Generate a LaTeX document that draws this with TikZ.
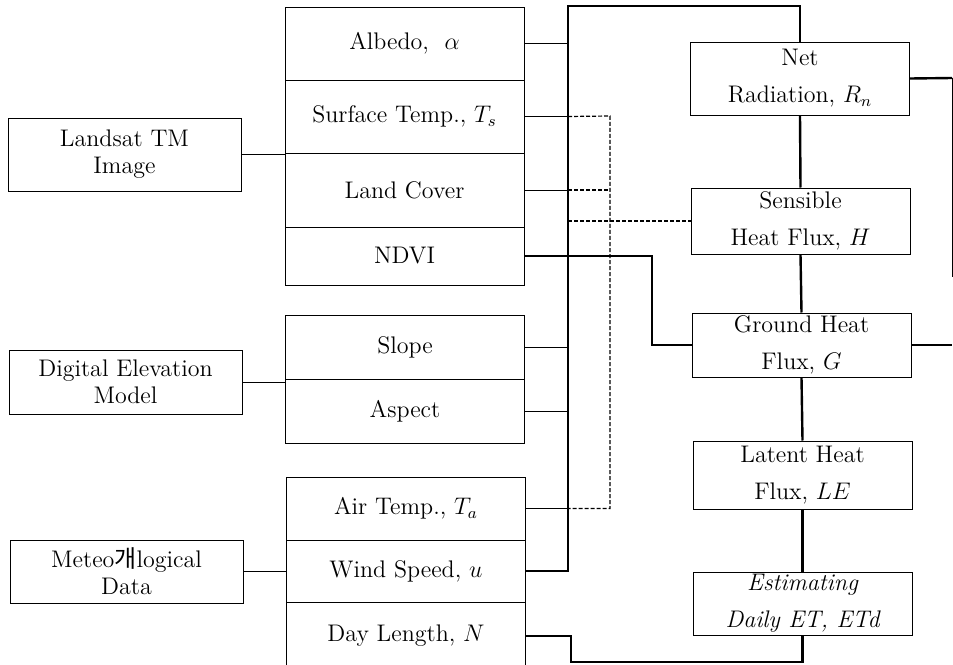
\documentclass[tikz,border=0pt]{standalone}
\usepackage{fontspec}
\usepackage{amsmath}
\usepackage{tikz}
\usetikzlibrary{positioning}
\newfontfamily\krfont{Noto Sans CJK KR}

\begin{document}
\begin{tikzpicture}[x=0.5pt, y=-0.5pt,
    srcbox/.style={draw, line width=0.5pt, minimum width=116.5pt, align=center,
      inner sep=0pt, font=\fontsize{12}{13.5}\selectfont},
    rowbox/.style={draw, line width=0.5pt, minimum width=119.5pt, inner sep=0pt,
      font=\fontsize{12}{14}\selectfont},
    procbox/.style={draw, line width=0.5pt, minimum width=109.5pt, align=center,
      inner sep=0pt, font=\fontsize{12}{18.5}\selectfont},
    link/.style={line width=0.5pt},
    buslink/.style={line width=1.2pt},
    dashlink/.style={line width=0.6pt, dash pattern=on 2pt off 1pt}]
  \useasboundingbox (0,0) rectangle (953,664);

  % data sources
  \node[srcbox, minimum height=36.5pt] (land) at (124.5,154.5) {Landsat TM\\Image};
  \node[srcbox, minimum height=32pt] (dem) at (125.5,382) {Digital Elevation\\Model};
  \node[srcbox, minimum height=31.5pt] (met) at (126.5,571.5) {Meteo{\krfont 개}logical\\Data};

  % derived parameters
  \node[rowbox, minimum height=36.5pt] (albedo) at (404.5,43.5) {Albedo,\ \ $\alpha$};
  \node[rowbox, minimum height=36.5pt] (surf) at (404.5,116.5) {Surface Temp., $T_s$};
  \node[rowbox, minimum height=37pt] (cover) at (404.5,190) {Land Cover};
  \node[rowbox, minimum height=29pt] (ndvi) at (404.5,256) {NDVI};
  \node[rowbox, minimum height=32pt] (slope) at (405,347) {Slope};
  \node[rowbox, minimum height=32pt] (aspect) at (405,411) {Aspect};
  \node[rowbox, minimum height=31.5pt] (airt) at (406,508.5) {Air Temp., $T_a$};
  \node[rowbox, minimum height=31pt] (wind) at (406,571) {Wind Speed, $u$};
  \node[rowbox, minimum height=34pt] (dayl) at (406,636) {Day Length, $N$};

  % energy balance terms
  \node[procbox, minimum height=36.5pt] (netr) at (800,78.5) {Net\\Radiation, $R_n$};
  \node[procbox, minimum height=33pt] (sens) at (800.5,221) {Sensible\\Heat Flux, $H$};
  \node[procbox, minimum height=32pt] (grnd) at (801.5,345) {Ground Heat\\Flux, $G$};
  \node[procbox, minimum height=34pt] (latent) at (802.5,475) {Latent Heat\\Flux, $LE$};
  \node[procbox, minimum height=31.5pt, font=\fontsize{12}{18.5}\selectfont\itshape]
    (estd) at (802.5,603.5) {Estimating\\Daily ET, ETd};

  % helper points
  \coordinate (bustop) at (568,6);
  \coordinate (dashtop) at (610,116);
  \coordinate (ndvijog) at (652,256);
  \coordinate (loopbot) at (571,662);
  \coordinate (rightx) at (952,78);
  \coordinate (rightend) at (952,277);

  % sources to parameters
  \draw[link] (land.east) -- (land.east -| surf.west);
  \draw[link] (dem.east) -- (dem.east -| slope.west);
  \draw[link] (met.east) -- (met.east -| wind.west);

  % main bus to net radiation
  \draw[buslink] (wind.east) -- (wind.east -| bustop) -- (bustop) -| (netr.north);
  \foreach \r in {albedo, surf, cover, slope, aspect, airt}
    \draw[link] (\r.east) -- (\r.east -| bustop);

  % temperatures and land cover to sensible heat
  \draw[dashlink] (surf.east -| bustop) -- (dashtop) -- (dashtop |- airt.east) -- (airt.east -| bustop);
  \draw[dashlink] (cover.east -| bustop) -- (cover.east -| dashtop);
  \draw[dashlink] (sens.west -| bustop) -- (sens.west);

  % NDVI to ground heat
  \draw[buslink] (ndvi.east) -- (ndvijog) |- (grnd.west);

  % energy balance chain
  \draw[buslink] (netr.south) -- (sens.north);
  \draw[buslink] (sens.south) -- (grnd.north);
  \draw[buslink] (grnd.south) -- (latent.north);
  \draw[buslink] (latent.south) -- (estd.north);
  \draw[buslink] (estd.south) |- (loopbot) |- (dayl.east);

  % right side return
  \draw[buslink] (netr.east) -- (rightx);
  \draw[link] (rightx) -- (rightend);
  \draw[buslink] (grnd.east) -- (grnd.east -| rightx);
\end{tikzpicture}
\end{document}
